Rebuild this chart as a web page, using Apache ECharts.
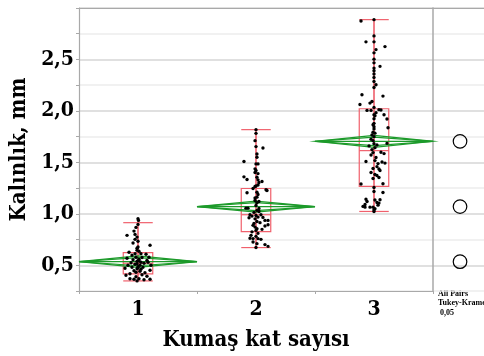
<!DOCTYPE html>
<html>
<head>
<meta charset="utf-8">
<script src="https://cdn.jsdelivr.net/npm/echarts@6/dist/echarts.min.js"></script>
<style>
  html, body { margin: 0; padding: 0; background: #fff; }
  #chart { width: 484px; height: 356px; }
</style>
</head>
<body>
<div id="chart"></div>
<script>
// Groups: number of fabric layers
const categories = ['1', '2', '3'];

// Group means and 95% confidence half-widths (means diamonds)
const means = [0.535, 1.07, 1.704];
const ciHalf = [0.056, 0.054, 0.058];

// Box plot summaries
const whiskerLow = [0.348, 0.672, 1.023];
const quartile1 = [0.416, 0.827, 1.266];
const medians = [0.52, 0.991, 1.614];
const quartile3 = [0.623, 1.246, 2.021];
const whiskerHigh = [0.914, 1.818, 2.887];

// Tukey-Kramer comparison circle radii
const circleRadius = [0.066, 0.066, 0.066];

// Observations per group: [horizontal jitter (fraction of band), thickness mm]
const group1 = [[0,0.952],[0.004,0.936],[-0.034,0.832],[-0.093,0.791],[-0.025,0.8],[-0.008,0.774],[-0.042,0.716],[0.102,0.694],[-0.025,0.752],[0,0.677],[-0.008,0.645],[-0.025,0.613],[0.025,0.613],[-0.076,0.626],[-0.051,0.597],[-0.017,0.578],[0.034,0.575],[0.068,0.607],[0.093,0.578],[0.008,0.558],[-0.008,0.539],[0.025,0.529],[-0.059,0.524],[0.076,0.548],[-0.025,0.51],[0.017,0.5],[0,0.485],[0.11,0.5],[-0.085,0.5],[0.042,0.481],[-0.008,0.466],[0.102,0.452],[-0.11,0.471],[-0.034,0.447],[0.017,0.442],[0.059,0.427],[-0.068,0.418],[-0.102,0.403],[0.034,0.408],[-0.017,0.389],[0.076,0.393],[-0.068,0.369],[-0.034,0.364],[0.008,0.369],[0.051,0.36],[0.102,0.364],[-0.008,0.348],[0,0.897],[-0.017,0.868],[0,0.733],[-0.008,0.665],[0.008,0.636],[-0.042,0.553],[0.051,0.519],[-0.008,0.515],[0.008,0.544],[0,0.476],[-0.051,0.481],[0.025,0.461],[-0.017,0.432],[0.085,0.529],[-0.093,0.568]];
const group2 = [[0,1.818],[0,1.782],[-0.008,1.711],[0,1.653],[0.059,1.64],[0.008,1.582],[0.008,1.549],[-0.102,1.508],[0,1.485],[0.017,1.485],[-0.008,1.437],[0,1.421],[-0.008,1.401],[0.017,1.391],[-0.102,1.359],[-0.076,1.333],[0.008,1.356],[0.017,1.33],[0.051,1.314],[0.025,1.304],[0.017,1.28],[-0.008,1.266],[0.085,1.234],[-0.025,1.246],[-0.076,1.204],[0.093,1.227],[0.008,1.21],[0.008,1.162],[-0.008,1.13],[0.008,1.108],[-0.068,1.055],[-0.085,1.055],[0,1.081],[0.008,1.033],[0.025,1.023],[-0.051,0.991],[-0.034,0.978],[-0.059,0.962],[0,0.984],[0.017,0.968],[0.042,0.991],[0.059,0.965],[0.076,0.936],[0.102,0.936],[0.034,0.914],[-0.025,0.888],[-0.008,0.871],[0.008,0.856],[0.076,0.881],[0.102,0.894],[-0.051,0.762],[-0.025,0.759],[0.017,0.759],[0.042,0.752],[-0.025,0.726],[0.008,0.71],[0.076,0.701],[0.102,0.684],[0,0.672],[-0.008,0.951],[0.008,0.926],[-0.017,0.907],[0,0.839],[0.017,0.81],[-0.042,0.791],[0,0.781],[-0.017,1.014],[0.025,1.052],[-0.008,1.154],[0.017,1.188],[0,1.27],[-0.034,0.825],[0.051,0.849],[0.025,1.12]];
const group3 = [[-0.11,2.874],[0,2.887],[0,2.729],[-0.068,2.671],[0,2.671],[0.093,2.625],[0.017,2.596],[0,2.564],[0,2.503],[0,2.467],[0.051,2.433],[0,2.416],[0,2.39],[0,2.358],[0,2.325],[0,2.286],[0.017,2.254],[0,2.228],[-0.102,2.157],[0.076,2.144],[-0.017,2.092],[-0.034,2.076],[-0.119,2.063],[0,2.034],[0.042,2.012],[-0.059,2.005],[-0.025,2.005],[0.059,2.009],[0,1.963],[0.008,1.953],[0.085,1.963],[0,1.924],[0.11,1.921],[0,1.879],[0,1.847],[0.119,1.837],[0,1.825],[-0.008,1.792],[-0.017,1.766],[0,1.75],[-0.025,1.724],[-0.008,1.711],[0.11,1.685],[-0.042,1.66],[0.025,1.668],[0.008,1.643],[-0.008,1.595],[0.059,1.598],[0.085,1.585],[-0.025,1.571],[0.017,1.547],[-0.068,1.508],[0.008,1.517],[0.034,1.488],[0.068,1.503],[0.093,1.493],[0.025,1.459],[-0.008,1.44],[0.051,1.421],[0.008,1.382],[0.025,1.372],[-0.008,1.343],[0.042,1.353],[-0.11,1.29],[0.076,1.292],[0,1.256],[0,1.217],[0.076,1.207],[-0.068,1.142],[-0.059,1.12],[-0.076,1.091],[-0.076,1.065],[-0.093,1.072],[-0.034,1.065],[0.008,1.135],[0.025,1.11],[0.042,1.104],[0.034,1.084],[0.051,1.137],[-0.008,1.065],[0.008,1.049],[0,1.04],[0,1.023],[0.017,1.983],[-0.008,1.866],[0.008,1.784],[0,1.682],[-0.017,1.624],[0.042,1.436],[-0.025,1.401]];

const groups = [group1, group2, group3];

const axisGray = '#a9a9a9';
const boxRed = '#f0606c';
const whiskerRed = '#e8283a';
const diamondGreen = '#1c9a2a';
const serif = '"DejaVu Serif Condensed", "Liberation Serif", serif';
const smallSerif = '"Liberation Serif", serif';

const summaryData = categories.map((c, i) => [i, whiskerLow[i], quartile1[i], medians[i], quartile3[i], whiskerHigh[i], means[i], ciHalf[i]]);
const pointData = [];
groups.forEach((g, gi) => g.forEach(p => pointData.push([gi, p[1], p[0]])));
const circleData = means.map((m, i) => [0.53, m, circleRadius[i]]);

function renderSummary(params, api) {
  const i = api.value(0);
  const band = api.size([1, 0])[0];
  const cx = api.coord([i, 0])[0];
  const y = v => api.coord([i, v])[1];
  const half = band * 0.125;
  const yLo = y(api.value(1)), yQ1 = y(api.value(2)), yMed = y(api.value(3));
  const yQ3 = y(api.value(4)), yHi = y(api.value(5));
  const yMean = y(api.value(6));
  const ci = api.value(7);
  const yTop = y(api.value(6) + ci), yBot = y(api.value(6) - ci);
  const yOTop = y(api.value(6) + ci / Math.SQRT2), yOBot = y(api.value(6) - ci / Math.SQRT2);
  const xl = cx - band / 2, xr = cx + band / 2;
  const red = { stroke: whiskerRed, lineWidth: 1.2, fill: null };
  const redBox = { stroke: boxRed, lineWidth: 1.2, fill: null };
  const green = { stroke: diamondGreen, lineWidth: 1.2, fill: null };
  return {
    type: 'group',
    children: [
      { type: 'line', shape: { x1: cx, y1: yLo, x2: cx, y2: yHi }, style: red },
      { type: 'line', shape: { x1: cx - half, y1: yHi, x2: cx + half, y2: yHi }, style: redBox },
      { type: 'line', shape: { x1: cx - half, y1: yLo, x2: cx + half, y2: yLo }, style: redBox },
      { type: 'rect', shape: { x: cx - half, y: yQ3, width: half * 2, height: yQ1 - yQ3 }, style: redBox },
      { type: 'line', shape: { x1: cx - half, y1: yMed, x2: cx + half, y2: yMed }, style: redBox },
      { type: 'polygon', shape: { points: [[xl, yMean], [cx, yTop], [xr, yMean], [cx, yBot]] }, style: green },
      { type: 'polygon', shape: { points: [[xl, yMean], [cx, yOTop], [xr, yMean], [cx, yOBot]] }, style: green },
      { type: 'line', shape: { x1: xl, y1: yMean, x2: xr, y2: yMean }, style: green }
    ]
  };
}

function renderPoint(params, api) {
  const band = api.size([1, 0])[0];
  const p = api.coord([api.value(0), api.value(1)]);
  return {
    type: 'circle',
    shape: { cx: p[0] + api.value(2) * band, cy: p[1], r: 1.7 },
    style: { fill: '#000' }
  };
}

function renderCircle(params, api) {
  const p = api.coord([api.value(0), api.value(1)]);
  const r = api.size([0, api.value(2)])[1];
  return {
    type: 'circle',
    shape: { cx: p[0], cy: p[1], r: r },
    style: { fill: null, stroke: '#000', lineWidth: 1.2 }
  };
}

const yCommon = {
  type: 'value', min: 0.25, max: 3.0, interval: 0.25,
  splitLine: { show: true, lineStyle: { color: ['#ededed', '#d6d6d6'], width: 1.5 } }
};

const chart = echarts.init(document.getElementById('chart'), null, { renderer: 'canvas' });
chart.setOption({
  animation: false,
  backgroundColor: '#fff',
  grid: [
    { left: 79, right: 51, top: 8, bottom: 65 },
    { left: 433, right: 0, top: 8, bottom: 65 }
  ],
  xAxis: [
    {
      type: 'category', gridIndex: 0, data: categories, boundaryGap: true,
      axisLine: { lineStyle: { color: axisGray, width: 1.2 } },
      axisTick: { show: true, length: 3, lineStyle: { color: axisGray } },
      axisLabel: { fontFamily: serif, fontWeight: 'bold', fontSize: 21, color: '#000', margin: 8 },
      name: 'Kumaş kat sayısı', nameLocation: 'middle', nameGap: 38,
      nameTextStyle: { fontFamily: serif, fontWeight: 'bold', fontSize: 22, color: '#000' }
    },
    {
      type: 'value', gridIndex: 0, min: 0, max: 1, position: 'top',
      axisLine: { show: true, lineStyle: { color: axisGray, width: 1.2 } },
      axisTick: { show: false }, axisLabel: { show: false }, splitLine: { show: false }
    },
    {
      type: 'value', gridIndex: 1, min: 0, max: 1, position: 'top',
      axisLine: { show: true, lineStyle: { color: axisGray, width: 1.2 } },
      axisTick: { show: false }, axisLabel: { show: false }, splitLine: { show: false }
    }
  ],
  yAxis: [
    Object.assign({}, yCommon, {
      gridIndex: 0,
      axisLine: { show: true, lineStyle: { color: axisGray, width: 1.2 } },
      axisTick: { show: true, length: 3, lineStyle: { color: axisGray } },
      axisLabel: {
        fontFamily: serif, fontWeight: 'bold', fontSize: 21, color: '#000', margin: 5,
        formatter: v => {
          const major = Math.abs(v * 2 - Math.round(v * 2)) < 1e-6;
          return (major && v > 0.3 && v < 2.9) ? v.toFixed(1).replace('.', ',') : '';
        }
      },
      name: 'Kalınlık, mm', nameLocation: 'middle', nameGap: 48, nameRotate: 90,
      nameTextStyle: { fontFamily: serif, fontWeight: 'bold', fontSize: 22, color: '#000' }
    }),
    Object.assign({}, yCommon, {
      gridIndex: 1,
      axisLine: { show: true, lineStyle: { color: axisGray, width: 1.5 } },
      axisTick: { show: false }, axisLabel: { show: false }
    })
  ],
  series: [
    {
      type: 'custom', xAxisIndex: 0, yAxisIndex: 0, data: summaryData,
      renderItem: renderSummary, z: 2
    },
    {
      type: 'custom', xAxisIndex: 0, yAxisIndex: 0, data: pointData,
      renderItem: renderPoint, z: 3
    },
    {
      type: 'custom', xAxisIndex: 2, yAxisIndex: 1, data: circleData,
      renderItem: renderCircle, z: 3
    }
  ],
  graphic: [
    { type: 'text', left: 438, top: 290, style: { text: 'All Pairs', font: 'bold 8px ' + smallSerif, fill: '#000' } },
    { type: 'text', left: 438, top: 299, style: { text: 'Tukey-Kramer', font: 'bold 8px ' + smallSerif, fill: '#000' } },
    { type: 'text', left: 440, top: 309, style: { text: '0,05', font: 'bold 8px ' + smallSerif, fill: '#000' } }
  ]
});
</script>
</body>
</html>
